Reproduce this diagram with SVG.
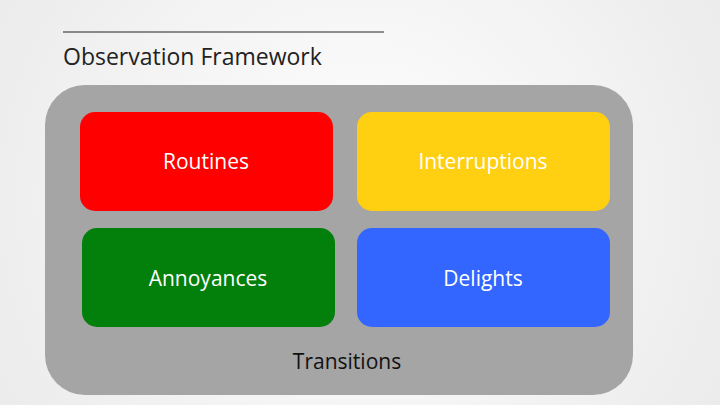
<svg xmlns="http://www.w3.org/2000/svg" width="720" height="405" viewBox="0 0 720 405">
<defs>
<radialGradient id="bg" cx="360" cy="200" r="420" gradientUnits="userSpaceOnUse">
<stop offset="0" stop-color="#ffffff"/><stop offset="1" stop-color="#ebebeb"/>
</radialGradient>
<style>
.box{rx:15px}
.lbl{font-family:"Open Sans","Liberation Sans",sans-serif;font-size:21px;fill:#fff;text-anchor:middle}
</style>
</defs>
<rect width="720" height="405" fill="url(#bg)"/>
<ellipse cx="1100" cy="700" rx="470" ry="430" fill="#ffffff"/>
<line x1="63" y1="32" x2="384" y2="32" stroke="#222" stroke-width="1"/>
<text x="63" y="65" font-family="Open Sans, Liberation Sans, sans-serif" font-size="23" fill="#222">Observation Framework</text>
<g id="transitions">
<rect x="45" y="85" width="588" height="310" rx="40" fill="#a5a5a5"/>
<text x="347" y="369" font-family="Open Sans, Liberation Sans, sans-serif" font-size="21" fill="#111" text-anchor="middle">Transitions</text>
</g>
<g id="routines"><rect x="80" y="112" width="253" height="99" rx="15" fill="#ff0000"/><text class="lbl" x="206" y="169">Routines</text></g>
<g id="interruptions"><rect x="357" y="112" width="253" height="99" rx="15" fill="#ffcf11"/><text class="lbl" x="483" y="169">Interruptions</text></g>
<g id="annoyances"><rect x="82" y="228" width="253" height="99" rx="15" fill="#037f0b"/><text class="lbl" x="208" y="286">Annoyances</text></g>
<g id="delights"><rect x="357" y="228" width="253" height="99" rx="15" fill="#3366ff"/><text class="lbl" x="483" y="286">Delights</text></g>
<g id="connectors"/>
</svg>
